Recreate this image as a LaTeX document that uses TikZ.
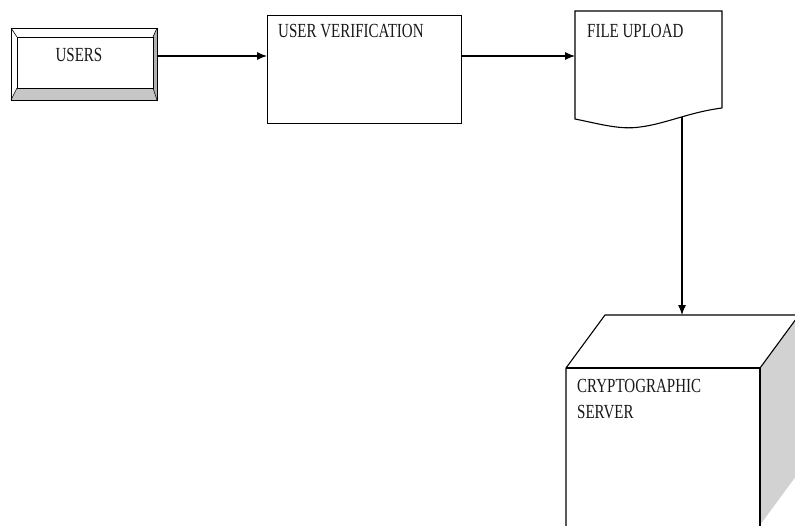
\documentclass[tikz,border=0pt]{standalone}
\usepackage{fontspec}
\setmainfont{Liberation Serif}[FakeStretch=0.75]
\usetikzlibrary{arrows.meta}
\tikzset{
  ln/.style={draw=black, line width=1.1pt},
  conn/.style={ln, -{Latex[length=10pt,width=8pt]}},
  lbl/.style={font=\fontsize{20}{26}\selectfont, text=black!90, inner sep=0pt, anchor=base west},
  boxnode/.style={ln, rectangle, inner sep=0pt}
}
\begin{document}
\begin{tikzpicture}[x=1pt,y=-1pt]
\useasboundingbox (0,0) rectangle (795,525);
\clip (0,0) rectangle (795,525);
\fill[white] (0,0) rectangle (795,525);
% USERS bevel box
\coordinate (uo1) at (11,28);
\coordinate (uo2) at (157,100);
\coordinate (ui1) at (17,37);
\coordinate (ui2) at (153,88);
\fill[gray!45] (11,100) -- (17,88) -- (153,88) -- (157,100) -- cycle;
\fill[gray!60] (157,28) -- (153,37) -- (153,88) -- (157,100) -- cycle;
\draw[line width=0.8pt] (uo1) rectangle (uo2);
\draw[line width=0.8pt] (ui1) rectangle (ui2);
\draw[line width=0.6pt] (uo1) -- (ui1) (157,28) -- (153,37) (11,100) -- (17,88) (uo2) -- (ui2);
\node[lbl, anchor=base] (users) at (79,61) {USERS};
% USER VERIFICATION
\node[boxnode, minimum width=194pt, minimum height=108pt, anchor=north west] (uv) at (267,15) {};
\node[lbl] (uvt) at (278,37) {USER VERIFICATION};
% FILE UPLOAD document
\node[minimum width=147pt, minimum height=107pt, inner sep=0pt, anchor=north west] (doc) at (575,11) {};
\draw[ln] (722,108) -- (722,11) -- (575,11) -- (575,119)
  .. controls (600,124) and (620,130) .. (640,127)
  .. controls (665,124) and (690,112) .. (722,108);
\node[lbl] (fut) at (587,37) {FILE UPLOAD};
\coordinate (docbot) at (682,117);
% cube
\fill[gray!35] (760,368) -- (799,315) -- (799,472) -- (760,525) -- cycle;
\draw[ln] (760,368) -- (799,315);
\draw[ln] (566,530) -- (566,368) -- (605,315) -- (799,315);
\draw[ln] (566,368) -- (760,368) -- (760,530);
\coordinate (cubetop) at (682,315);
\node[lbl] (cst1) at (577,392) {CRYPTOGRAPHIC};
\node[lbl] (cst2) at (577,418) {SERVER};
% connectors
\draw[conn] (157,56) -- (uv.west |- 0,56);
\draw[conn] (uv.east |- 0,56) -- (doc.west |- 0,56);
\draw[conn] (docbot) -- (cubetop);
\end{tikzpicture}
\end{document}
